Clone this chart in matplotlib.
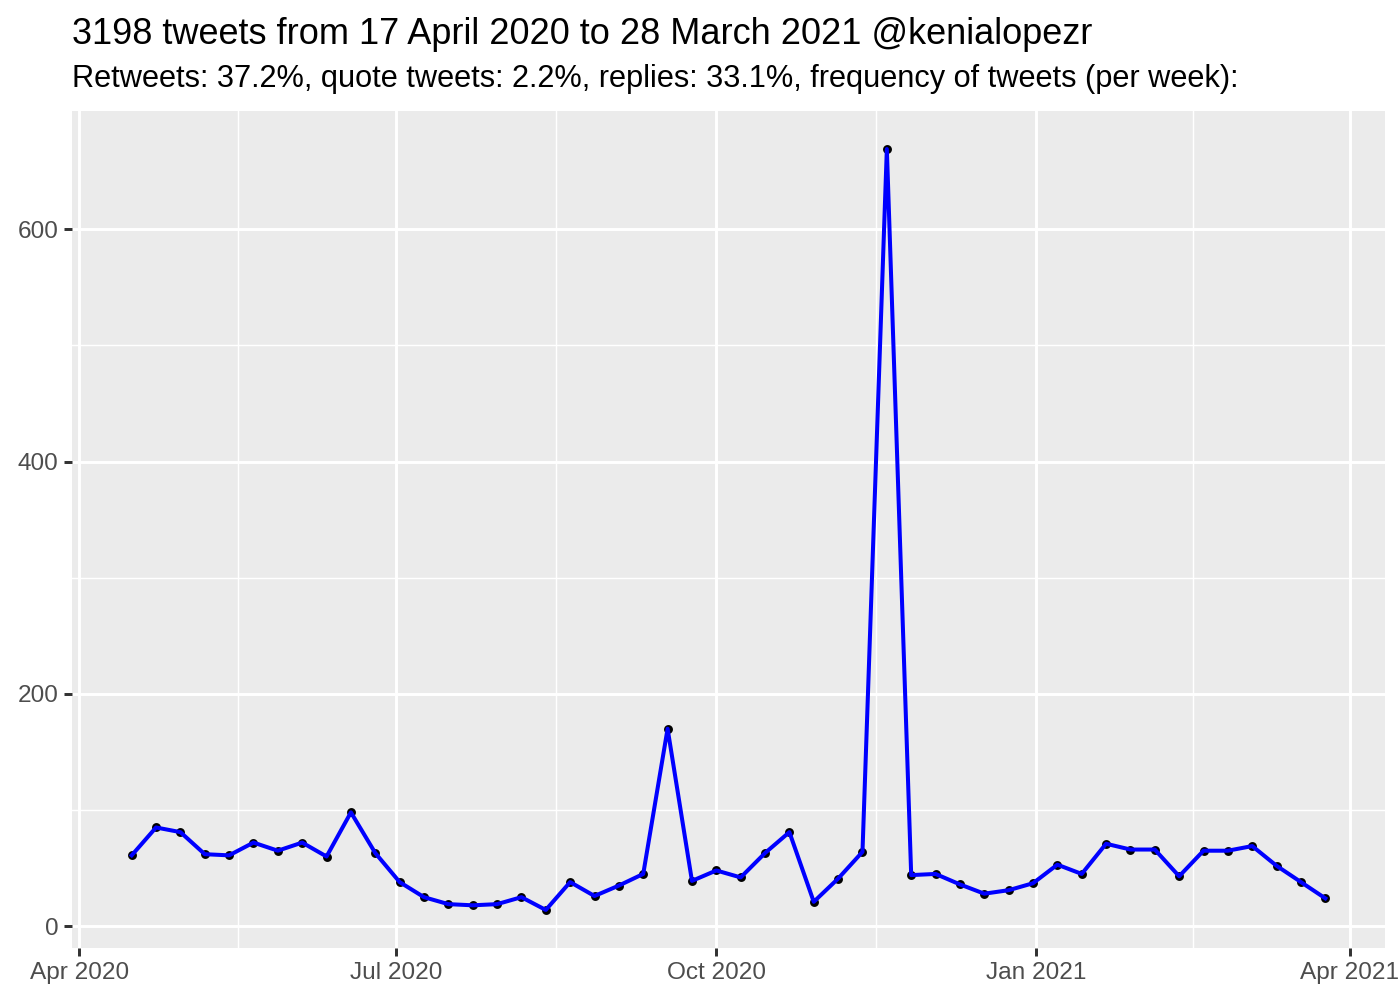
import matplotlib
matplotlib.use("Agg")
import matplotlib.pyplot as plt
import matplotlib.dates as mdates
import numpy as np
import pandas as pd

# ---- data ----
start_date = "2020-04-16"
weekly_counts = [61, 85, 81, 62, 61, 72, 65, 72, 60, 98,
                 63, 38, 25, 19, 18, 19, 25, 14, 38, 26,
                 35, 45, 170, 39, 48, 42, 63, 81, 21, 41,
                 64, 669, 44, 45, 36, 28, 31, 37, 53, 45,
                 71, 66, 66, 43, 65, 65, 69, 52, 38, 24]
tick_dates = ["2020-04-01", "2020-07-01", "2020-10-01", "2021-01-01", "2021-04-01"]
tick_labels = ["Apr 2020", "Jul 2020", "Oct 2020", "Jan 2021", "Apr 2021"]
y_ticks = [0, 200, 400, 600]
title = "3198 tweets from 17 April 2020 to 28 March 2021 @kenialopezr"
subtitle = "Retweets: 37.2%, quote tweets: 2.2%, replies: 33.1%, frequency of tweets (per week):"

dates = pd.date_range(start_date, periods=len(weekly_counts), freq="7D")
x = mdates.date2num(dates.to_pydatetime())
y = np.array(weekly_counts)

plt.rcParams['font.family'] = ['Liberation Sans', 'DejaVu Sans']

fig = plt.figure(figsize=(7, 5), dpi=200)
ax = fig.add_axes([72/1400, 52/1000, 1313/1400, 837/1000])
ax.set_facecolor("#EBEBEB")
for s in ax.spines.values():
    s.set_visible(False)

# limits with 5% expansion like ggplot
xr = x.max() - x.min()
ax.set_xlim(x.min() - 0.05*xr, x.max() + 0.05*xr)
yr = y.max() - y.min()
ax.set_ylim(y.min() - 0.05*yr, y.max() + 0.05*yr)

major_x = mdates.date2num(pd.to_datetime(tick_dates).to_pydatetime())
minor_x = (major_x[:-1] + major_x[1:]) / 2
ax.set_xticks(major_x)
ax.set_xticklabels(tick_labels)
ax.set_xticks(minor_x, minor=True)
ax.set_yticks(y_ticks)
ax.set_yticks([100, 300, 500], minor=True)

ax.grid(which="major", color="white", linewidth=1.07)
ax.grid(which="minor", color="white", linewidth=0.53)
ax.set_axisbelow(True)

ax.tick_params(which="major", length=2.75, width=1.07, color="#333333",
               labelsize=8.8, labelcolor="#4D4D4D", pad=2.2)
ax.tick_params(which="minor", length=0, width=0)

ax.plot(x, y, "o", color="black", markersize=2.2, zorder=2)
ax.plot(x, y, "-", color="blue", linewidth=1.45, zorder=3)

fig.text(72/1400, 1 - 44/1000, title, fontsize=13.0, color="black", ha="left", va="baseline")
fig.text(72/1400, 1 - 87/1000, subtitle, fontsize=11.07, color="black", ha="left", va="baseline")

fig.savefig("out.png", dpi=200)
